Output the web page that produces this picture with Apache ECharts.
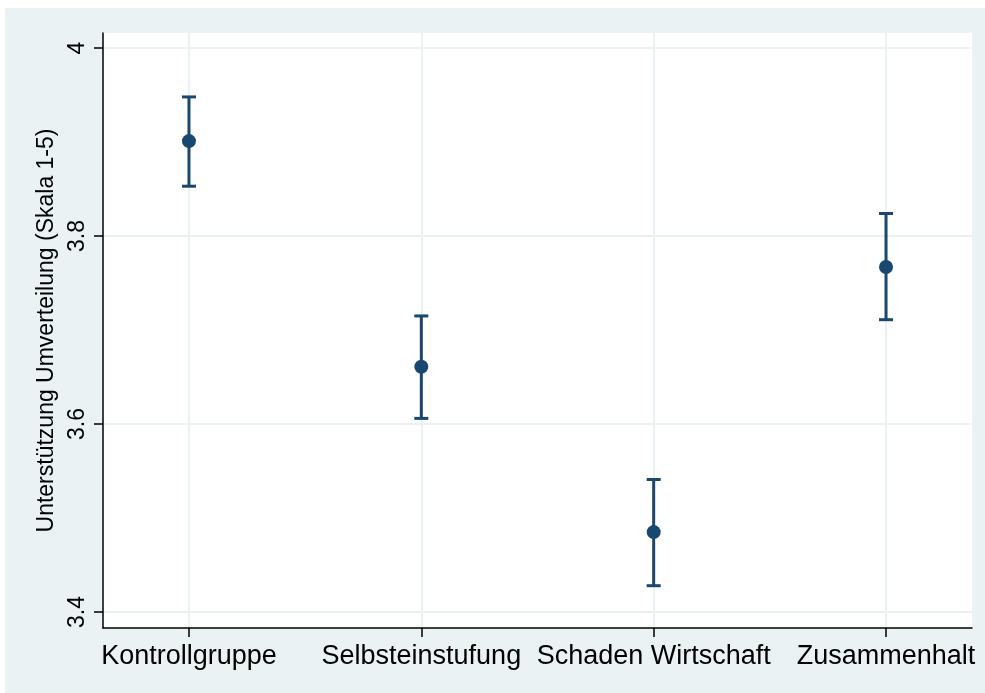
<!DOCTYPE html>
<html>
<head>
<meta charset="utf-8">
<script src="https://cdn.jsdelivr.net/npm/echarts@6/dist/echarts.min.js"></script>
<style>
html,body{margin:0;padding:0;background:#fff;}
#c{width:985px;height:693px;}
</style>
</head>
<body>
<div id="c"></div>
<script>
const categories = ['Kontrollgruppe', 'Selbsteinstufung', 'Schaden Wirtschaft', 'Zusammenhalt'];
const means = [3.901, 3.661, 3.485, 3.767];
const lower = [3.853, 3.606, 3.428, 3.711];
const upper = [3.948, 3.715, 3.541, 3.824];
const yTicks = [3.4, 3.6, 3.8, 4];
const xPositions = [1, 2, 3, 4];
const yTitle = 'Unterstützung Umverteilung (Skala 1-5)';

const navy = '#1A476F';
const gridColor = '#EAF2F3';
const font = 'Liberation Sans, Arial, sans-serif';

const chart = echarts.init(document.getElementById('c'), null, {renderer: 'canvas'});
chart.setOption({
  backgroundColor: '#ffffff',
  animation: false,
  graphic: [{
    type: 'rect', z: -10, silent: true,
    shape: {x: 5, y: 8, width: 980, height: 685},
    style: {fill: gridColor}
  }],
  grid: {
    left: 103, top: 33, right: 13, bottom: 65,
    show: true, backgroundColor: '#ffffff', borderWidth: 0
  },
  xAxis: {
    type: 'value', min: 0.63, max: 4.37,
    axisLine: {show: true, onZero: false, lineStyle: {color: '#000', width: 1.5}},
    axisTick: {show: true, length: 9, customValues: xPositions, lineStyle: {color: '#000', width: 1.5}},
    axisLabel: {
      customValues: xPositions, margin: 15, color: '#000', fontFamily: font, fontSize: 27,
      formatter: v => categories[Math.round(v) - 1] || ''
    },
    splitLine: {show: true, lineStyle: {color: gridColor, width: 2}}
  },
  yAxis: {
    type: 'value', min: 3.383, max: 4.016,
    name: yTitle, nameLocation: 'middle', nameRotate: 90, nameGap: 43,
    nameTextStyle: {color: '#000', fontFamily: font, fontSize: 23},
    axisLine: {show: true, onZero: false, lineStyle: {color: '#000', width: 1.5}},
    axisTick: {show: true, length: 9, customValues: yTicks, lineStyle: {color: '#000', width: 1.5}},
    axisLabel: {
      customValues: yTicks, rotate: 90, margin: 14, color: '#000', fontFamily: font, fontSize: 23,
      formatter: v => String(Math.round(v * 10) / 10)
    },
    splitLine: {show: true, lineStyle: {color: gridColor, width: 2}}
  },
  series: [
    {
      type: 'custom',
      z: 3,
      data: xPositions.map((x, i) => [x, lower[i], upper[i]]),
      renderItem: function (params, api) {
        const x = api.value(0);
        const lo = api.coord([x, api.value(1)]);
        const hi = api.coord([x, api.value(2)]);
        const hw = 7;
        const st = {stroke: navy, lineWidth: 3};
        return {
          type: 'group',
          children: [
            {type: 'line', shape: {x1: lo[0], y1: lo[1], x2: hi[0], y2: hi[1]}, style: st},
            {type: 'line', shape: {x1: lo[0] - hw, y1: lo[1], x2: lo[0] + hw, y2: lo[1]}, style: st},
            {type: 'line', shape: {x1: hi[0] - hw, y1: hi[1], x2: hi[0] + hw, y2: hi[1]}, style: st}
          ]
        };
      }
    },
    {
      type: 'scatter',
      z: 4,
      symbol: 'circle', symbolSize: 14,
      itemStyle: {color: navy, opacity: 1},
      data: xPositions.map((x, i) => [x, means[i]])
    }
  ]
});
</script>
</body>
</html>
